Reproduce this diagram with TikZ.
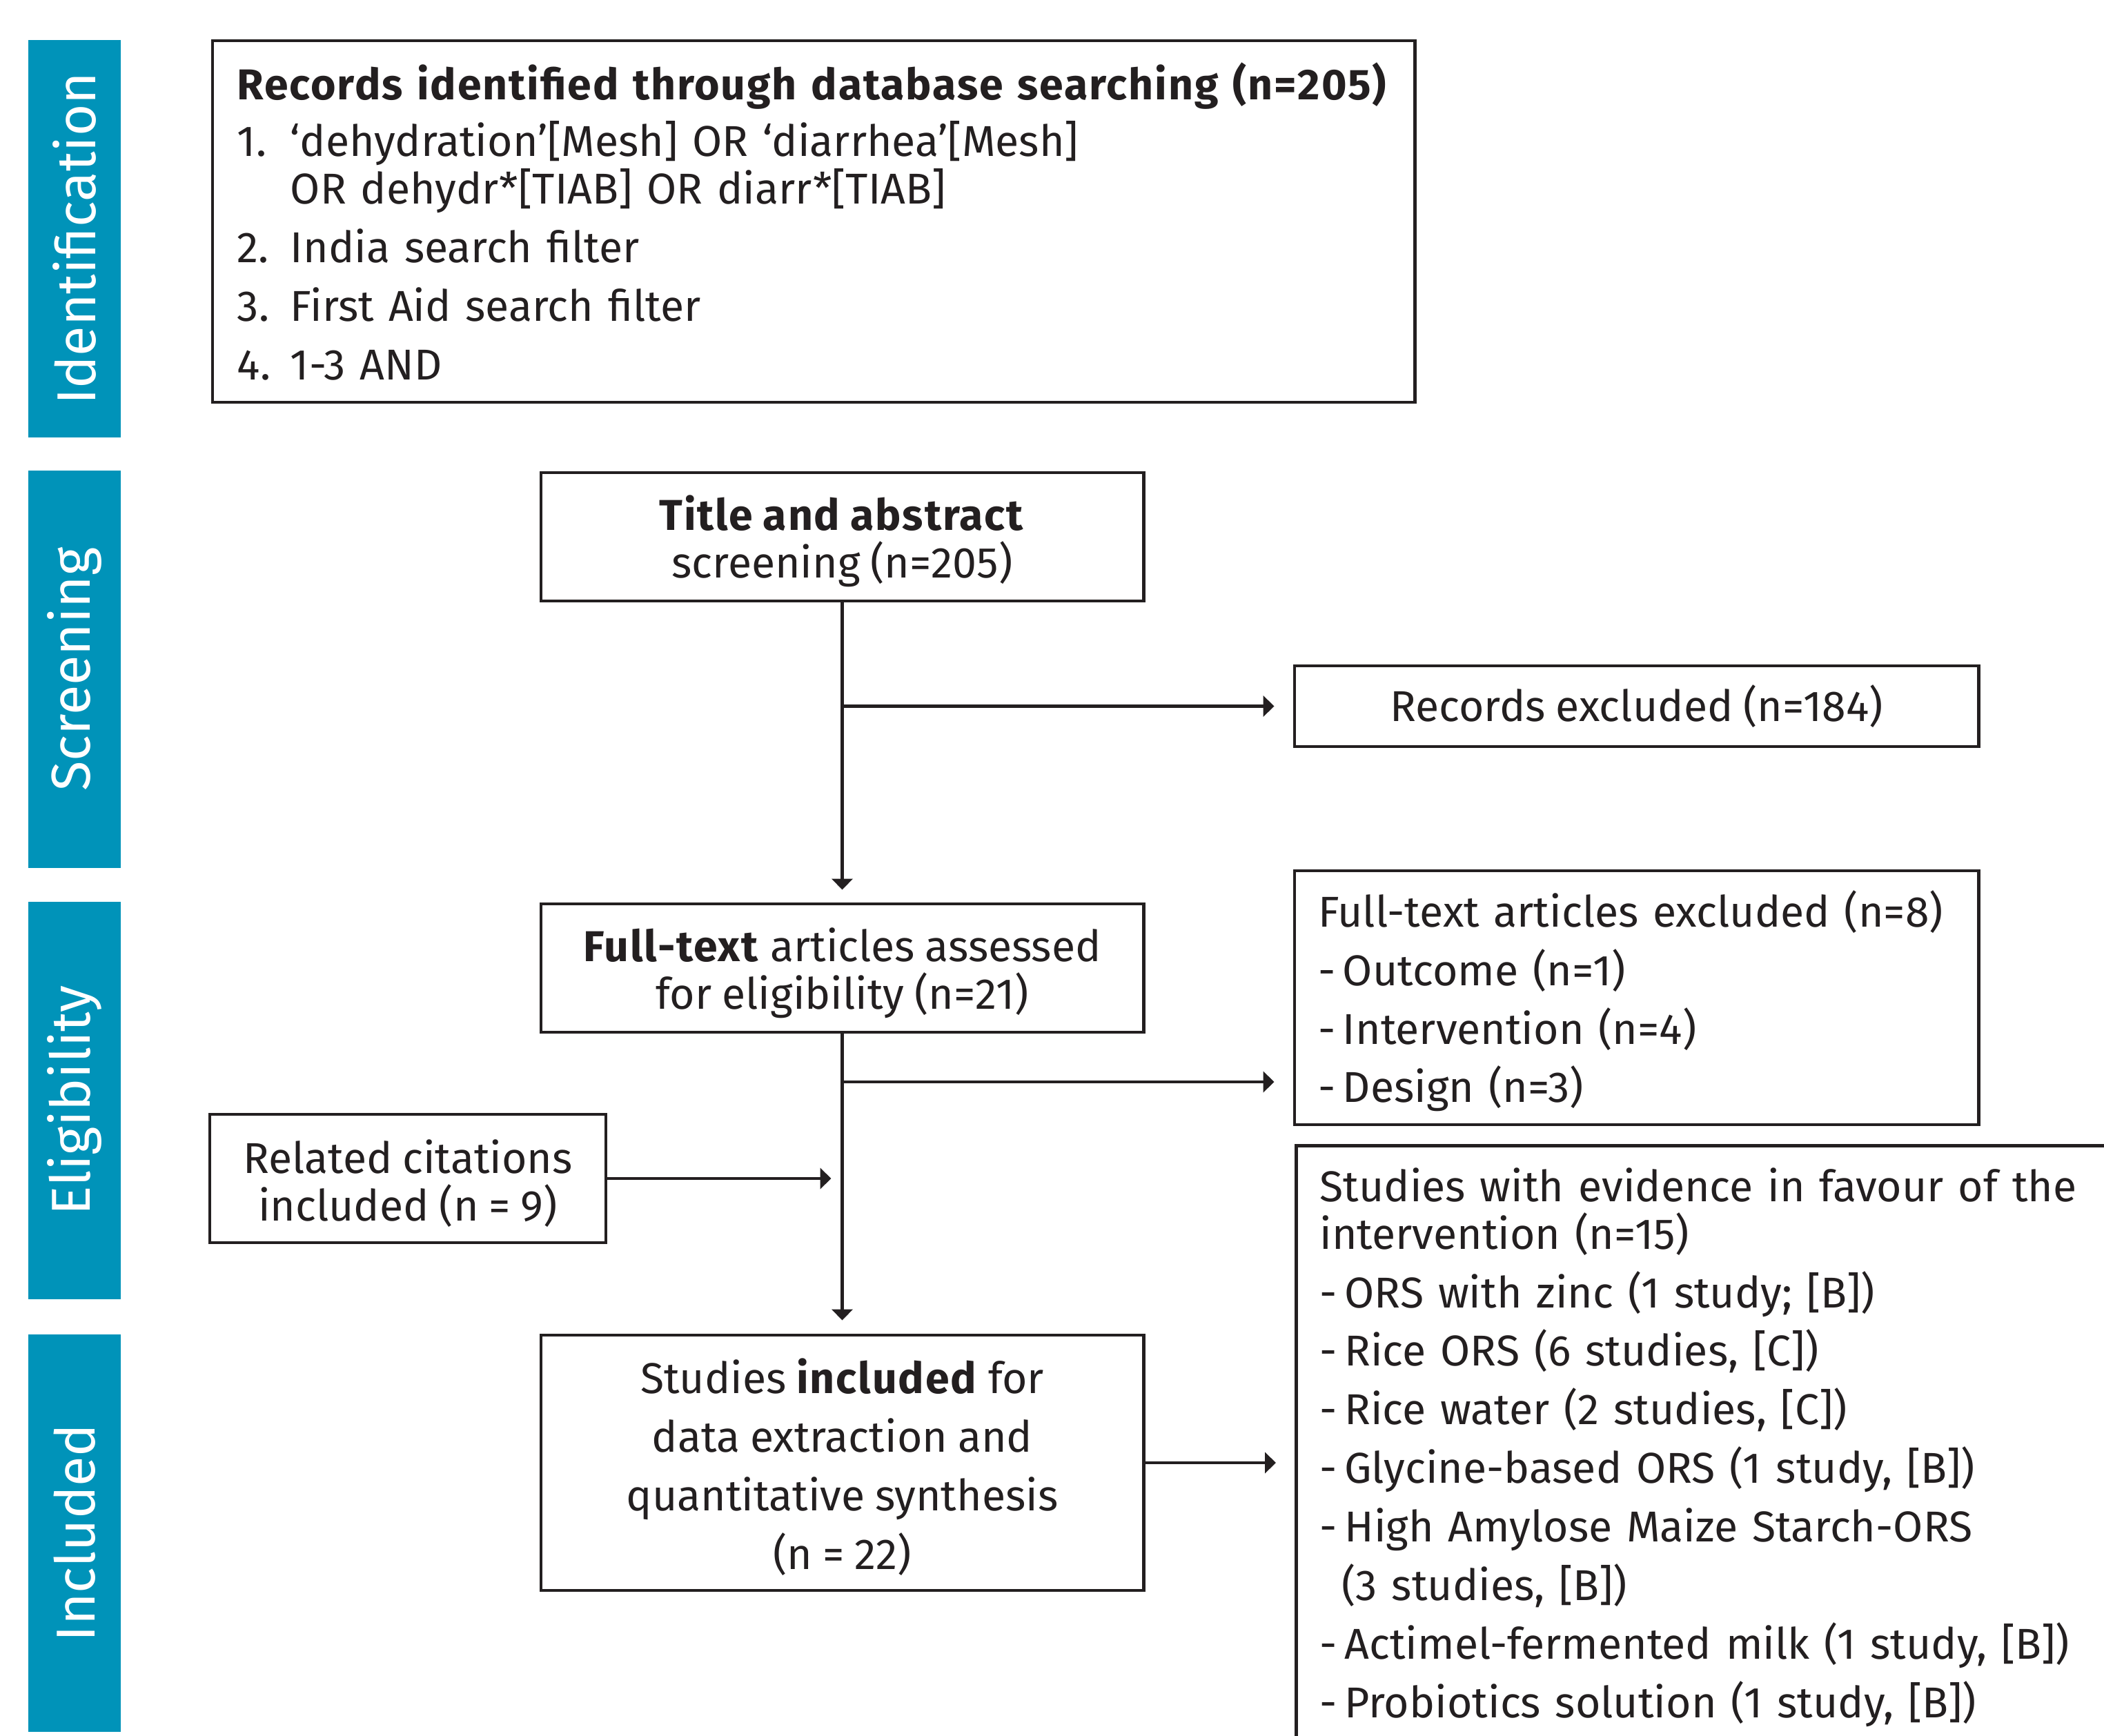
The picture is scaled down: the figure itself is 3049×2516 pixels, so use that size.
\documentclass[tikz,border=0pt]{standalone}
\usepackage{fontspec}
\setmainfont{Fira Sans}[WordSpace=0.9,BoldFeatures={LetterSpace=3}]
\usepackage{tikz}
\usetikzlibrary{arrows.meta}
\definecolor{barblue}{RGB}{0,147,185}
\definecolor{ink}{RGB}{35,31,32}
\newcommand{\itm}[1]{\makebox[3.85mm][l]{#1}}
\newcommand{\dsh}{\makebox[1.8mm][l]{-}}
\newcommand{\topstrut}{\rule{0pt}{8.9pt}}

\begin{document}
\begin{tikzpicture}[x=0.05mm,y=-0.05mm]
\tikzset{bar/.style = {rotate=90,fill=barblue,text=white,minimum width=28.8mm,minimum height=6.7mm,inner sep=0pt,font=\fontsize{11.3pt}{14pt}\selectfont}}
\tikzset{box/.style = {draw=ink,line width=0.7pt,text=ink,inner sep=0pt,font=\fontsize{8.9pt}{9.8pt}\selectfont}}
\tikzset{edge/.style = {draw=ink,line width=0.7pt,-{Triangle[length=0.8mm,width=1.5mm]}}}
\useasboundingbox (0,0) rectangle (3049,2516);

% phase bars
\node[bar] (idbar) at (108,346)    {Identification};
\node[bar] (scbar) at (108,970)    {Screening};
\node[bar] (elbar) at (108,1595)   {Eligibility};
\node[bar] (inbar) at (108,2221.5) {Included};

% boxes
\node[box,align=left,text width=83.5mm,inner xsep=1.8mm,minimum height=26.2mm] (records) at (1179,321) {%
\textbf{Records identified through database searching (n=205)}\\[0.65mm]
\itm{1.}‘dehydration’[Mesh] OR ‘diarrhea’[Mesh]\\
\itm{}OR dehydr*[TIAB] OR diarr*[TIAB]\\[0.8mm]
\itm{2.}India search filter\\[0.8mm]
\itm{3.}First Aid search filter\\[0.8mm]
\itm{4.}1-3 AND};
\node[box,align=center,minimum width=43.65mm,minimum height=9.3mm] (title) at (1220.5,778) {\topstrut\textbf{Title and abstract}\\screening (n=205)};
\node[box,align=center,minimum width=49.55mm,minimum height=5.85mm] (rexcl) at (2371.5,1023.5) {Records excluded (n=184)};
\node[box,align=center,minimum width=43.65mm,minimum height=9.3mm] (fulltext) at (1220.5,1403) {\topstrut\textbf{Full-text} articles assessed\\for eligibility (n=21)};
\node[box,align=left,text width=46.15mm,inner xsep=1.7mm,minimum height=18.4mm] (ftexcl) at (2371.5,1446) {%
\topstrut Full-text articles excluded (n=8)\\[0.8mm]
\dsh Outcome (n=1)\\[0.8mm]
\dsh Intervention (n=4)\\[0.8mm]
\dsh Design (n=3)};
\node[box,align=center,minimum width=28.7mm,minimum height=9.3mm] (related) at (591,1708) {\topstrut Related citations\\included (n = 9)};
\node[box,align=center,minimum width=43.65mm,minimum height=18.5mm] (studies) at (1220.5,2120) {%
\topstrut Studies \textbf{included} for\\[0.8mm]
data extraction and\\[0.8mm]
quantitative synthesis\\[0.8mm]
(n = 22)};
\node[box,align=left,anchor=north west,text width=60mm,inner xsep=1.7mm,inner ysep=1.6mm] (evidence) at (1876,1658) {%
Studies with evidence in favour of the\\
intervention (n=15)\\[0.8mm]
\dsh ORS with zinc (1 study; [B])\\[0.8mm]
\dsh Rice ORS (6 studies, [C])\\[0.8mm]
\dsh Rice water (2 studies, [C])\\[0.8mm]
\dsh Glycine-based ORS (1 study, [B])\\[0.8mm]
\dsh High Amylose Maize Starch-ORS\\[0.8mm]
\hspace*{1.6mm}(3 studies, [B])\\[0.8mm]
\dsh Actimel-fermented milk (1 study, [B])\\[0.8mm]
\dsh Probiotics solution (1 study, [B])};

% flow
\coordinate (fork1) at (title.south |- rexcl.west);
\coordinate (fork2) at (1220.5,1568);
\draw[edge,shorten >=0.9mm] (title.south) to (fulltext.north);
\draw[edge,shorten >=1.35mm] (fork1) to (rexcl.west);
\draw[edge,shorten >=0.95mm] (fulltext.south) to (studies.north);
\draw[edge,shorten >=1.35mm] (fork2) to (fork2 -| ftexcl.west);
\draw[edge,shorten >=0.8mm] (related.east) to (related.east -| fulltext.south);
\draw[edge,shorten >=1.35mm] (studies.east) to (studies.east -| evidence.west);
\end{tikzpicture}
\end{document}
